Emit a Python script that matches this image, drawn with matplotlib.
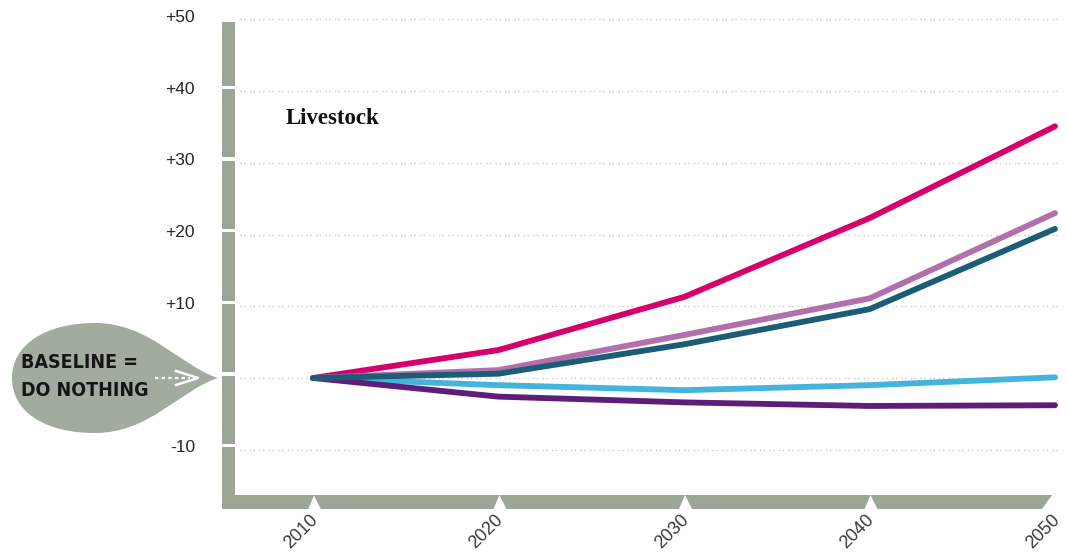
import matplotlib
matplotlib.use("Agg")
import matplotlib.pyplot as plt
from matplotlib.path import Path
from matplotlib.patches import PathPatch, Polygon

# ---- data -------------------------------------------------------------
years = [2010, 2020, 2030, 2040, 2050]
year_labels = ["2010", "2020", "2030", "2040", "2050"]
y_ticks = [50, 40, 30, 20, 10, 0, -10]
y_labels = ["+50", "+40", "+30", "+20", "+10", "", "-10"]

magenta = [0, 3.9, 11.3, 22.3, 35.1]
lilac = [0, 1.1, 6.0, 11.1, 23.0]
teal = [0, 0.6, 4.7, 9.6, 20.8]
sky = [0, -1.0, -1.7, -1.0, 0.1]
plum = [0, -2.6, -3.4, -3.9, -3.8]

series = [
    (sky, "#45b4dc"),
    (plum, "#5e1d78"),
    (magenta, "#d6006c"),
    (lilac, "#b26fac"),
    (teal, "#1b5d77"),
]

# ---- figure -----------------------------------------------------------
W, H = 1068, 554
fig = plt.figure(figsize=(W / 100, H / 100), dpi=100)
ax = fig.add_axes([0, 0, 1, 1])
ax.set_axis_off()

PX_YR = 18.55      # pixels per year
PX_UNIT = 7.17     # pixels per percentage point
X0, Y0 = 313, 378  # pixel position of (2010, 0)

xl = 2010 - X0 / PX_YR
yt = Y0 / PX_UNIT
ax.set_xlim(xl, xl + W / PX_YR)
ax.set_ylim(yt - H / PX_UNIT, yt)


def X(px):
    return xl + px / PX_YR


def Y(py):
    return yt - py / PX_UNIT


def P(px, py):
    return (X(px), Y(py))


bar_col = "#9ba696"
drop_col = "#a1ab9e"

# dotted grid
for v in y_ticks:
    ax.plot([X(240), X(1062)], [v, v], color="#c9c9c9", lw=1.0,
            dashes=(1, 1.6, 1, 3.2), zorder=1)

# vertical axis bar with small breaks beside each tick
gaps = [v + 0.55 for v in y_ticks if v < 50]
edges = [Y(22)] + [e for g in gaps for e in (g + 0.22, g - 0.22)] + [Y(509)]
for top, bot in zip(edges[0::2], edges[1::2]):
    ax.add_patch(Polygon([(X(222), top), (X(235), top), (X(235), bot), (X(222), bot)],
                         closed=True, facecolor=bar_col, edgecolor="none", zorder=2))

# horizontal axis bar cut by a triangular notch at each year
tick_px = [X0 + (yr - 2010) * PX_YR for yr in years]
left_top = 222
left_bot = 222
for i, tp in enumerate(tick_px[1:]):
    last = i == len(tick_px) - 2
    right_top = 1052 if last else tp + 1
    right_bot = 1042 if last else tp - 5
    ax.add_patch(Polygon([P(left_top, 495), P(right_top, 495),
                          P(right_bot, 509), P(left_bot, 509)],
                         closed=True, facecolor=bar_col, edgecolor="none", zorder=2))
    left_top = tp + 1
    left_bot = tp + 8
# notch at 2010 cut into the first segment
ax.add_patch(Polygon([P(tick_px[0] - 5, 509.5), P(tick_px[0] + 1, 495.5),
                      P(tick_px[0] + 8, 509.5)],
                     closed=True, facecolor="white", edgecolor="none", zorder=3))

# tick labels
for v, lab in zip(y_ticks, y_labels):
    if lab:
        ax.text(X(195), v + 0.3, lab, ha="right", va="center", fontsize=12.5,
                family="Liberation Sans", color="#262626")
for yr, lab in zip(years, year_labels):
    ax.text(yr + 0.45, Y(511), lab, ha="right", va="top", rotation=45,
            fontsize=13, family="Liberation Sans", color="#3a3a3a")

# series
for vals, col in series:
    ax.plot(years, vals, color=col, lw=4.2, solid_capstyle="round",
            solid_joinstyle="round", zorder=5)

ax.text(X(286), Y(119), "Livestock", ha="left", va="center", fontsize=16.5,
        family="Liberation Serif", weight="bold", color="#111111")

# baseline teardrop
verts = [
    (218, 378),
    (180, 366), (150, 323), (95, 323),
    (45, 323), (12, 345), (12, 378),
    (12, 412), (45, 433), (95, 433),
    (150, 433), (180, 390), (218, 378),
]
codes = [Path.MOVETO] + [Path.CURVE4] * 12
ax.add_patch(PathPatch(Path([P(*v) for v in verts], codes),
                       facecolor=drop_col, edgecolor="none", zorder=2))
label_font = dict(family="DejaVu Sans", stretch="condensed", weight="bold",
                  color="#151515", fontsize=14)
ax.text(X(21), Y(363), "BASELINE =", ha="left", va="center", **label_font)
ax.text(X(21), Y(390), "DO NOTHING", ha="left", va="center", **label_font)
ax.plot([X(155), X(190)], [0, 0], color="white", lw=1.6, dashes=(1.5, 1.5), zorder=3)
ax.plot([X(176), X(198), X(176)], [Y(371), 0, Y(385)], color="white", lw=1.8,
        zorder=3)

fig.savefig("out.png", dpi=100)
